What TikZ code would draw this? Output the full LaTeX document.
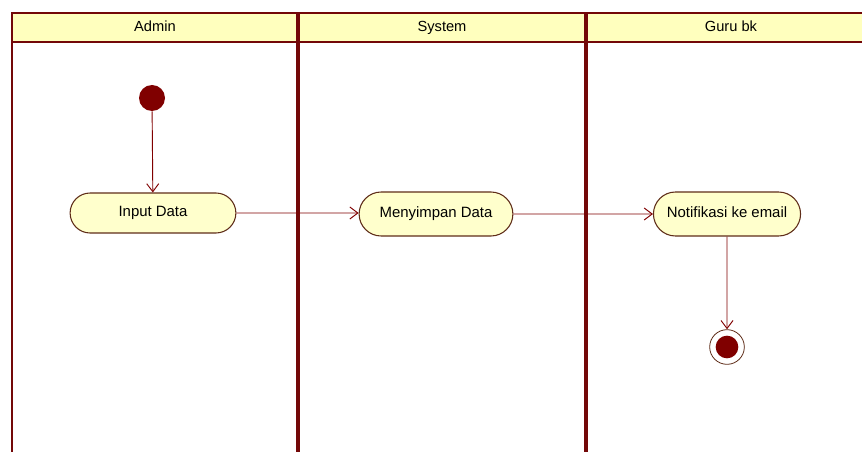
\documentclass[tikz,border=0pt]{standalone}
\usepackage{fontspec}
\setmainfont{Liberation Sans}
\usetikzlibrary{arrows.meta,shapes.misc}
\definecolor{lanered}{RGB}{115,8,8}
\definecolor{actline}{RGB}{95,45,25}
\definecolor{actfill}{RGB}{255,255,204}
\definecolor{headfill}{RGB}{255,255,190}
\definecolor{dotred}{RGB}{128,0,0}
\begin{document}
\begin{tikzpicture}[x=0.75pt,y=-0.75pt,
	lanehead/.style={font=\fontsize{11}{13}\selectfont,text height=8pt,text depth=2.5pt},
	activity/.style={rounded rectangle,draw=actline,fill=actfill,line width=0.8pt,
		text height=8pt,text depth=2.5pt,font=\fontsize{11.2}{13}\selectfont},
	flow/.style={draw=dotred,line width=0.7pt,-{Straight Barb[length=6pt,width=9pt]}}]
	\useasboundingbox (0,0) rectangle (862,452);
	% swimlanes
	\fill[headfill] (12,13) rectangle (862,42);
	\draw[lanered,line width=1.5pt] (862,13) -- (12,13) -- (12,452);
	\draw[lanered,line width=1.5pt] (12,42) -- (862,42);
	\foreach \x in {298,586} \draw[lanered,line width=3pt] (\x,13) -- (\x,452);
	\foreach \n/\x/\t in {admin/155/Admin,system/442/System,guru/731/Guru bk}
	\node[lanehead] (\n) at (\x,28) {\t};
	% activities
	\node[circle,fill=dotred,minimum size=19.5pt,inner sep=0pt] (start) at (152,98) {};
	\node[activity,minimum width=131pt,minimum height=30pt] (input) at (153,213) {Input Data};
	\node[activity,minimum width=122pt,minimum height=33pt] (simpan) at (436,214) {Menyimpan Data};
	\node[activity,minimum width=117pt,minimum height=33pt] (notif) at (727,214) {Notifikasi ke email};
	\node[circle,draw=actline,fill=white,line width=0.6pt,minimum size=26pt,inner sep=0pt] (end) at (727,347) {};
	\node[circle,fill=dotred,minimum size=17pt,inner sep=0pt] (endin) at (end) {};
	\draw[flow] (start) -- (input);
	\draw[flow] (input) -- (input -| simpan.west);
	\draw[flow] (simpan) -- (notif);
	\draw[flow] (notif) -- (end);
\end{tikzpicture}
\end{document}
